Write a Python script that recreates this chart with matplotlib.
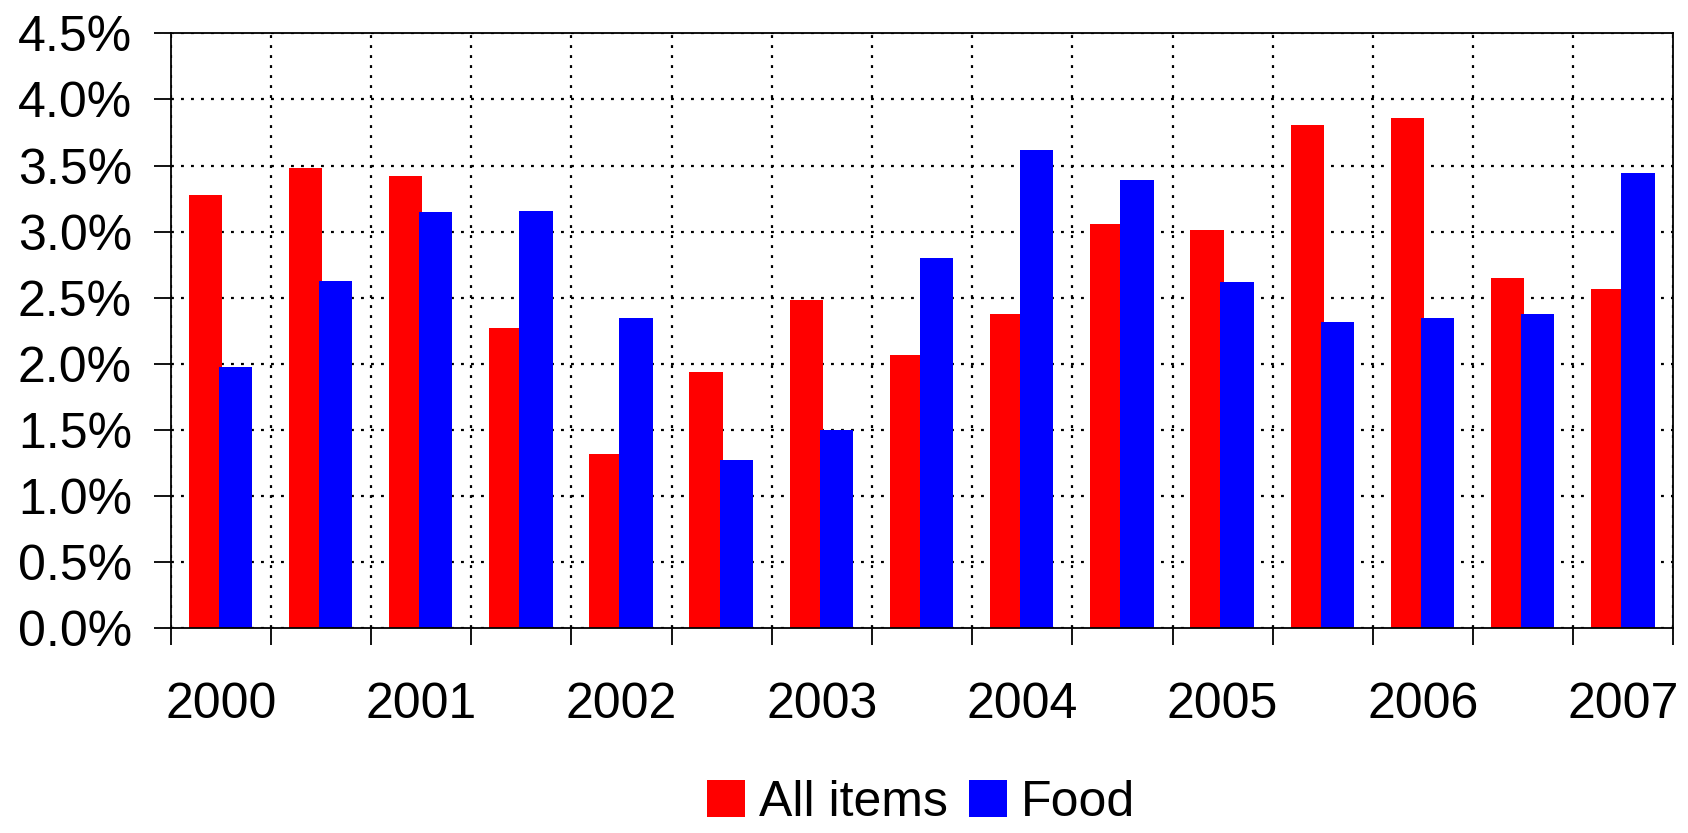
import matplotlib.pyplot as plt
import numpy as np
from matplotlib.ticker import FixedLocator, FuncFormatter

plt.rcParams['font.family'] = ['Liberation Sans', 'DejaVu Sans']

years = ['2000', '2001', '2002', '2003', '2004', '2005', '2006', '2007']
# half-year steps, 15 slots
all_items = [3.28, 3.48, 3.42, 2.27, 1.32, 1.94, 2.48, 2.07, 2.38, 3.06, 3.01, 3.81, 3.86, 2.65, 2.57]
food = [1.98, 2.63, 3.15, 3.16, 2.35, 1.27, 1.50, 2.80, 3.62, 3.39, 2.62, 2.32, 2.35, 2.38, 3.44]

n = len(all_items)
x = np.arange(n) + 0.5
w = 0.333

fig = plt.figure(figsize=(16.88, 8.33), dpi=100)
ax = fig.add_axes([0.1011, 0.2457, 0.8903, 0.7143])

ax.bar(x - 0.155, all_items, w, color='#ff0000', label='All items', zorder=2)
ax.bar(x + 0.145, food, w, color='#0000ff', label='Food', zorder=2)

ax.set_xlim(0, n)
ax.set_ylim(0, 4.5)

ax.xaxis.set_major_locator(FixedLocator(np.arange(n + 1)))
ax.xaxis.set_major_formatter(FuncFormatter(lambda v, p: ''))
ax.xaxis.set_minor_locator(FixedLocator(x[::2]))
ax.set_xticklabels(years, minor=True)
ax.tick_params(axis='x', which='minor', length=0, pad=39, labelsize=36)
ax.tick_params(axis='x', which='major', length=12, width=1.3, direction='out')

ax.set_yticks(np.arange(0, 4.51, 0.5))
ax.yaxis.set_major_formatter(FuncFormatter(lambda v, p: '%.1f%%' % v))
ax.tick_params(axis='y', length=12, width=1.3, pad=16, labelsize=36)

ax.grid(True, which='major', color='black', linewidth=1.6, linestyle=(0, (1.3, 3.2)), zorder=1)
ax.set_axisbelow(True)
for s in ax.spines.values():
    s.set_linewidth(1.3)
    s.set_zorder(3)

fig.legend(loc='center', bbox_to_anchor=(0.5456, 0.036), ncol=2, frameon=False,
           fontsize=36, handlelength=0.76, handleheight=0.74, handletextpad=0.28,
           columnspacing=0.42, borderpad=0)

fig.savefig('out.png', dpi=100)
